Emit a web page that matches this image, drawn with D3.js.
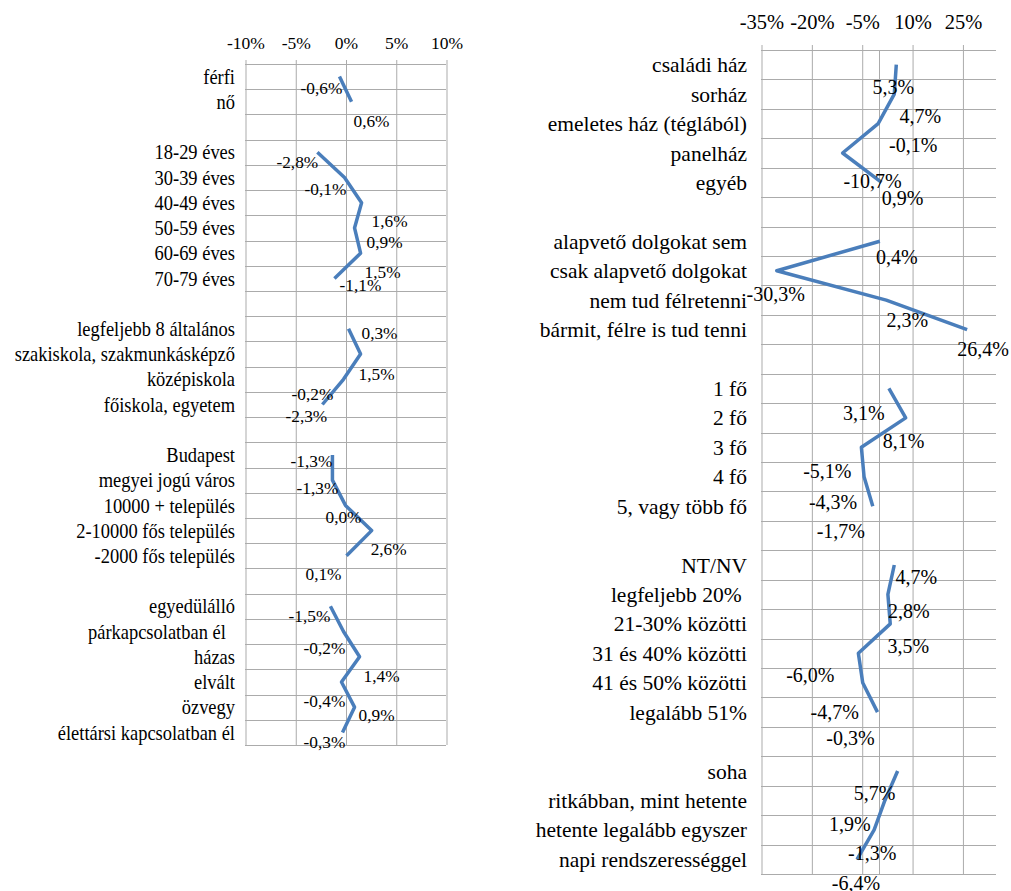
<!DOCTYPE html>
<html>
<head>
<meta charset="utf-8">
<script src="https://cdn.jsdelivr.net/npm/d3@7"></script>
<style>
  body { margin: 0; background: #fff; }
  svg { display: block; }
  svg text { font-family: "Liberation Serif", "Tinos", "Times New Roman", Times, serif; fill: #000; }
</style>
</head>
<body>
<svg id="chart" width="1011" height="891"></svg>
<script>
// ---------- left panel: demographic groups ----------
const genderCats = ["férfi", "nő"];
const genderVals = [-0.6, 0.6];
const ageCats = ["18-29 éves", "30-39 éves", "40-49 éves", "50-59 éves", "60-69 éves", "70-79 éves"];
const ageVals = [-2.8, -0.1, 1.6, 0.9, 1.5, -1.1];
const eduCats = ["legfeljebb 8 általános", "szakiskola, szakmunkásképző", "középiskola", "főiskola, egyetem"];
const eduVals = [0.3, 1.5, -0.2, -2.3];
const settlementCats = ["Budapest", "megyei jogú város", "10000 + település", "2-10000 fős település", "-2000 fős település"];
const settlementVals = [-1.3, -1.3, 0.0, 2.6, 0.1];
const maritalCats = ["egyedülálló", "párkapcsolatban él  ", "házas", "elvált", "özvegy", "élettársi kapcsolatban él"];
const maritalVals = [-1.5, -0.2, 1.4, -0.4, 0.9, -0.3];
const leftTicks = [-10, -5, 0, 5, 10];

// ---------- right panel: household groups ----------
const housingCats = ["családi ház", "sorház", "emeletes ház (téglából)", "panelház", "egyéb"];
const housingVals = [5.3, 4.7, -0.1, -10.7, 0.9];
const savingCats = ["alapvető dolgokat sem", "csak alapvető dolgokat", "nem tud félretenni", "bármit, félre is tud tenni"];
const savingVals = [0.4, -30.3, 2.3, 26.4];
const householdCats = ["1 fő", "2 fő", "3 fő", "4 fő", "5, vagy több fő"];
const householdVals = [3.1, 8.1, -5.1, -4.3, -1.7];
const shareCats = ["NT/NV", "legfeljebb 20% ", "21-30% közötti", "31 és 40% közötti", "41 és 50% közötti", "legalább 51%"];
const shareVals = [4.7, 2.8, 3.5, -6.0, -4.7, -0.3];
const freqCats = ["soha", "ritkábban, mint hetente", "hetente legalább egyszer", "napi rendszerességgel"];
const freqVals = [5.7, 1.9, -1.3, -6.4];
const rightTicks = [-35, -20, -5, 10, 25];

// data-label nudges (px, relative to each point): [dx, dy]
const genderNudge = [[-18, 11], [20, 19]];
const ageNudge = [[-20, 10], [-19, 11], [28, 18], [30, 14], [22, 19], [26, 7]];
const eduNudge = [[31, 4], [16, 20], [-31, 15], [-16, 11]];
const settlementNudge = [[-21, 6], [-15, 8], [-2, 12], [17, 18], [-23, 18]];
const maritalNudge = [[-21, 10], [-19, 16], [22, 19], [-17, 19], [22, 8], [-18, 10]];
const housingNudge = [[-3, 22], [26, 22], [35, 21], [30, 28], [21, 16]];
const savingNudge = [[17, 16], [-1, 23], [21, 20], [16, 19]];
const householdNudge = [[-25, 25], [-2, 23], [-34, 24], [-31, 25], [-32, 25]];
const shareNudge = [[22, 12], [21, 17], [18, 22], [-48, 22], [-28, 29], [-27, 26]];
const freqNudge = [[-23, 22], [-35, 24], [-2, 23], [-1, 24]];

const huLocale = d3.formatLocale({
  decimal: ",", thousands: " ", grouping: [3], currency: ["", " Ft"], minus: "-"
});
const fmtValue = v => huLocale.format(".1f")(v) + "%";
const fmtTick = v => huLocale.format("d")(v) + "%";
// keep trailing spaces visible in right-aligned labels
const keepTrailing = s => s.replace(/ +$/, m => "\u00A0".repeat(m.length));

const FONT = '"Liberation Serif", "Tinos", "Times New Roman", Times, serif';
const svg = d3.select("#chart");
svg.append("rect").attr("width", 1011).attr("height", 891).attr("fill", "#fff");

const GRID = "#ababab";
const LINE = "#4a7ebb";

function drawPanel(cfg) {
  // rows: every category of every group, with one empty row between groups
  const rows = [];
  cfg.groups.forEach((g, gi) => {
    if (gi > 0) rows.push({ id: "gap" + gi, blank: true });
    g.cats.forEach((c, ci) => rows.push({ id: "g" + gi + "c" + ci, label: c, value: g.vals[ci], nudge: g.nudge[ci], group: gi }));
  });

  const x = d3.scaleLinear().domain(cfg.domain).range(cfg.xRange);
  const y = d3.scaleBand().domain(rows.map(r => r.id)).range([cfg.top, cfg.bottom]).paddingInner(0).paddingOuter(0);
  const cy = id => y(id) + y.bandwidth() / 2;

  const g = svg.append("g");

  // horizontal gridlines on band boundaries
  const bounds = [cfg.top].concat(rows.map(r => y(r.id) + y.bandwidth()));
  g.selectAll("line.h").data(bounds).join("line")
    .attr("x1", cfg.xRange[0]).attr("x2", cfg.xRange[1])
    .attr("y1", d => Math.round(d) + 0.5).attr("y2", d => Math.round(d) + 0.5)
    .attr("stroke", GRID).attr("stroke-width", 1);

  // value axis on top with gridlines running down the plot
  const axis = d3.axisTop(x).tickValues(cfg.ticks).tickFormat(fmtTick)
    .tickSize(-(cfg.bottom - cfg.top + cfg.tickOut)).tickPadding(cfg.tickPad);
  const ax = g.append("g").attr("transform", `translate(0.5,${cfg.top - cfg.tickOut})`).call(axis);
  ax.attr("font-family", FONT).attr("font-size", cfg.tickFont);
  ax.select(".domain").remove();
  ax.selectAll(".tick line").attr("stroke", GRID).attr("stroke-width", 1);
  ax.selectAll(".tick text").attr("fill", "#000");

  // zero line
  if (cfg.zeroLine) {
    g.append("line").attr("x1", Math.round(x(0)) + 0.5).attr("x2", Math.round(x(0)) + 0.5)
      .attr("y1", cfg.top).attr("y2", cfg.bottom).attr("stroke", GRID).attr("stroke-width", 1);
  }

  // category labels (optionally condensed horizontally)
  g.selectAll("text.cat").data(rows.filter(r => !r.blank)).join("text")
    .attr("class", "cat")
    .attr("transform", d => `translate(${cfg.xRange[0] - cfg.catGap},${cy(d.id)}) scale(${cfg.catScaleX},1)`)
    .attr("dy", "0.35em")
    .attr("text-anchor", "end").attr("font-size", cfg.catFont).attr("font-family", FONT)
    .text(d => keepTrailing(d.label));

  // one line per group
  const line = d3.line().x(d => x(d.value)).y(d => cy(d.id));
  cfg.groups.forEach((grp, gi) => {
    const pts = rows.filter(r => !r.blank && r.group === gi);
    g.append("path").datum(pts).attr("d", line)
      .attr("fill", "none").attr("stroke", LINE).attr("stroke-width", 3.5)
      .attr("stroke-linejoin", "round").attr("stroke-linecap", "butt");
  });

  // data labels
  g.selectAll("text.val").data(rows.filter(r => !r.blank)).join("text")
    .attr("class", "val")
    .attr("x", d => x(d.value) + d.nudge[0]).attr("y", d => cy(d.id) + d.nudge[1])
    .attr("dy", "0.35em").attr("text-anchor", "middle").attr("font-size", cfg.valFont)
    .attr("font-family", FONT)
    .text(d => fmtValue(d.value));
}

drawPanel({
  groups: [
    { cats: genderCats, vals: genderVals, nudge: genderNudge },
    { cats: ageCats, vals: ageVals, nudge: ageNudge },
    { cats: eduCats, vals: eduVals, nudge: eduNudge },
    { cats: settlementCats, vals: settlementVals, nudge: settlementNudge },
    { cats: maritalCats, vals: maritalVals, nudge: maritalNudge }
  ],
  domain: [-10, 10], xRange: [245, 446], top: 64, bottom: 745,
  ticks: leftTicks, tickOut: 4, tickPad: 11, tickFont: 17.5,
  catFont: 20.5, catScaleX: 0.9, catGap: 10, valFont: 17.3, zeroLine: false
});

drawPanel({
  groups: [
    { cats: housingCats, vals: housingVals, nudge: housingNudge },
    { cats: savingCats, vals: savingVals, nudge: savingNudge },
    { cats: householdCats, vals: householdVals, nudge: householdNudge },
    { cats: shareCats, vals: shareVals, nudge: shareNudge },
    { cats: freqCats, vals: freqVals, nudge: freqNudge }
  ],
  domain: [-35, 35], xRange: [761, 996], top: 50, bottom: 874,
  ticks: rightTicks, tickOut: 5, tickPad: 16, tickFont: 20.5,
  catFont: 21.5, catScaleX: 1, catGap: 14, valFont: 20, zeroLine: true
});
</script>
</body>
</html>
